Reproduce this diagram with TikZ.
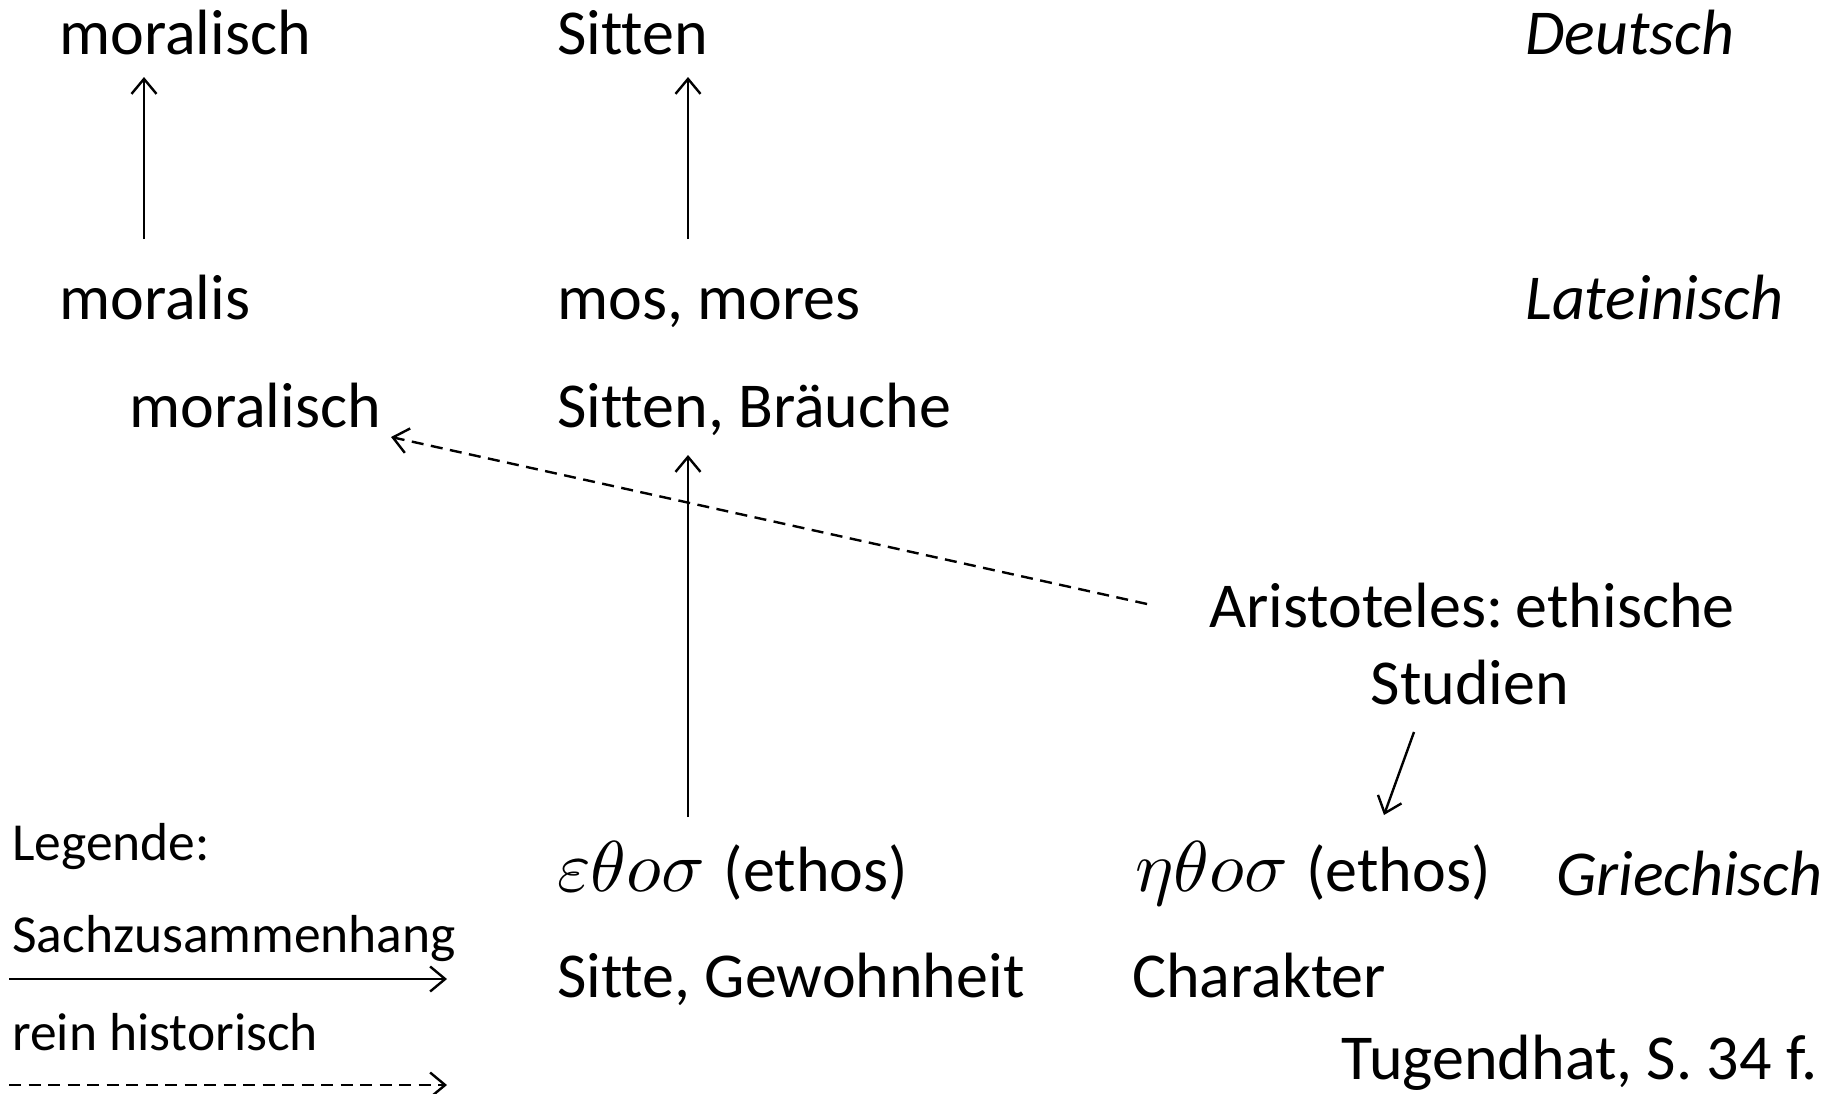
\documentclass[tikz,border=0pt]{standalone}
\usepackage[no-math]{fontspec}
\setmainfont{Carlito}[Ligatures=NoCommon]
\usetikzlibrary{arrows.meta,calc}
\newcommand{\grk}[1]{{\fontsize{10}{12}\selectfont\scalebox{7.2}{$#1$}}}
\begin{document}
\begin{tikzpicture}[x=1pt,y=-1pt,
  lbl/.style={anchor=base west, inner sep=0pt, font=\fontsize{64}{76}\selectfont},
  leg/.style={anchor=base west, inner sep=0pt, font=\fontsize{53.5}{64}\selectfont},
  arr/.style={line width=2.4pt, -{Straight Barb[length=15pt,width=25pt,line width=2.4pt]}},
  darr/.style={arr, dash pattern=on 12pt off 7.5pt}]
\useasboundingbox (0,0) rectangle (1839,1093);

% German row
\node[lbl] (de1) at (59,54) {moralisch};
\node[lbl] (de2) at (557,54) {Sitten};
\node[lbl] (deL) at (1525,54) {\itshape Deutsch};

% Latin row
\node[lbl] (la1) at (59,319) {moralis};
\node[lbl] (la2) at (557,319) {mos, mores};
\node[lbl] (laL) at (1525,319) {\itshape Lateinisch};
\node[lbl] (la1t) at (129,427) {moralisch};
\node[lbl] (la2t) at (557,427) {Sitten, Bräuche};

% Aristotle
\node[lbl, anchor=base] (ari1) at (1472,627) {Aristoteles:\kern-2pt\ ethische};
\node[lbl, anchor=base] (ari2) at (1470,704) {Studien};

% Greek row
\node[lbl] (gr1) at (557,891) {\grk{\varepsilon\theta o\sigma}\kern4pt\ (ethos)};
\node[lbl] (gr2) at (1135,891) {\grk{\eta\theta o\sigma}\kern4pt\ (ethos)};
\node[lbl] (grL) at (1556,895) {\itshape Griechisch};
\node[lbl] (gr1t) at (557,997) {Sitte, Gewohnheit};
\node[lbl] (gr2t) at (1132,997) {Charakter};

% Source
\node[lbl, anchor=base east] (src) at (1818,1079) {Tugendhat, S. 34 f.};

% Legend
\node[leg] (leg0) at (12,860) {Legende:};
\node[leg] (leg1) at (12,952) {Sachzusammenhang};
\node[leg] (leg2) at (12,1050) {rein historisch};

% Connectors
\draw[arr] ($(la1.base west)+(85,-80)$) -- ($(de1.base west)+(85,23)$);
\draw[arr] ($(la2.base west)+(131,-80)$) -- ($(de2.base west)+(131,23)$);
\draw[arr] ($(gr1.base west)+(131,-74)$) -- ($(la2t.base west)+(131,28)$);
\draw[darr] ($(ari1.base west)+(-62,-23)$) -- ($(la1t.base east)+(10,10)$);
\draw[arr] ($(ari2.base)+(-56,28)$) -- ($(gr2.base west)+(249,-76)$);

% Legend arrows
\draw[arr] ($(leg1.base west)+(-3,27)$) -- ($(leg1.base west)+(435,27)$);
\draw[darr] ($(leg2.base west)+(-3,35)$) -- ($(leg2.base west)+(435,35)$);
\end{tikzpicture}
\end{document}
